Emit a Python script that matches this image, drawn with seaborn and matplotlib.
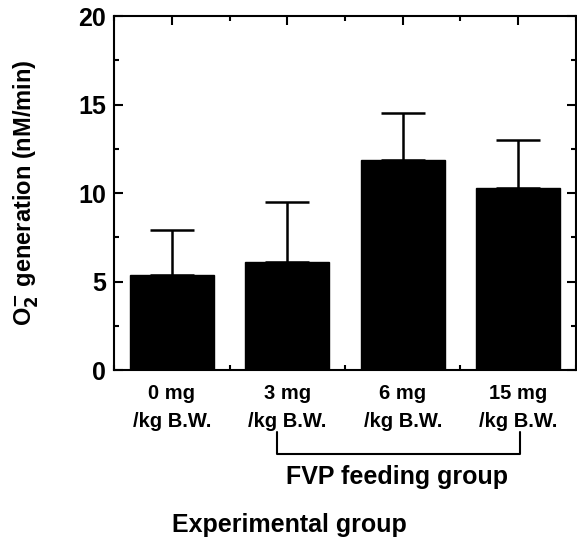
import numpy as np
import matplotlib
matplotlib.use("Agg")
import matplotlib.pyplot as plt
import matplotlib.transforms as mtransforms
from matplotlib.ticker import MultipleLocator
import pandas as pd
import seaborn as sns

# data
groups = ["0 mg\n/kg B.W.", "3 mg\n/kg B.W.", "6 mg\n/kg B.W.", "15 mg\n/kg B.W."]
o2_generation = [5.4, 6.1, 11.9, 10.3]
sem = [2.5, 3.4, 2.6, 2.7]

df = pd.DataFrame({"group": groups, "value": o2_generation})

sns.set_style("ticks")
plt.rcParams["font.family"] = ["Liberation Sans", "DejaVu Sans"]
plt.rcParams["font.weight"] = "bold"
plt.rcParams["mathtext.default"] = "bf"
plt.rcParams["text.color"] = "black"
plt.rcParams["axes.labelcolor"] = "black"
plt.rcParams["xtick.color"] = "black"
plt.rcParams["ytick.color"] = "black"

fig = plt.figure(figsize=(5.77, 5.38), dpi=100)
ax = fig.add_axes([0.198, 0.312, 0.800, 0.658])

sns.barplot(data=df, x="group", y="value", color="black", width=0.73,
            errorbar=None, saturation=1, edgecolor="black", ax=ax)

ax.errorbar(np.arange(len(groups)), o2_generation,
            yerr=[np.zeros(len(sem)), sem], fmt="none", ecolor="black",
            elinewidth=1.8, capsize=15.5, capthick=1.8, zorder=0.5)

ax.set_xlim(-0.5, 3.5)
ax.set_ylim(0, 20)
ax.yaxis.set_major_locator(MultipleLocator(5))
ax.yaxis.set_minor_locator(MultipleLocator(2.5))
ax.xaxis.set_minor_locator(MultipleLocator(0.5))

for s in ax.spines.values():
    s.set_linewidth(1.5)
    s.set_visible(True)
    s.set_color("black")

ax.tick_params(which="both", direction="in", top=True, right=True,
               width=1.5, colors="black")
ax.tick_params(which="major", length=6.5)
ax.tick_params(which="minor", length=3.5)
ax.tick_params(axis="y", labelsize=18, pad=6)
ax.tick_params(axis="x", labelsize=14.5, pad=10)
for lbl in ax.get_xticklabels() + ax.get_yticklabels():
    lbl.set_fontweight("bold")
for lbl in ax.get_xticklabels():
    lbl.set_linespacing(1.6)

ax.set_xlabel("")
ax.set_ylabel(r"O$_2^{-}$ generation (nM/min)", fontsize=17, fontweight="bold")
ax.yaxis.set_label_coords(-0.16, 0.5)

# bracket under the FVP feeding groups
trans = mtransforms.blended_transform_factory(ax.transData, fig.transFigure)
ax.plot([0.91, 0.91, 3.02, 3.02], [0.197, 0.156, 0.156, 0.197],
        color="black", lw=1.5, transform=trans, clip_on=False)

fig.text(0.688, 0.113, "FVP feeding group", ha="center", va="center",
         fontsize=18, fontweight="bold")
fig.text(0.501, 0.024, "Experimental group", ha="center", va="center",
         fontsize=18, fontweight="bold")

fig.savefig("out.png", dpi=100)
plt.close(fig)
